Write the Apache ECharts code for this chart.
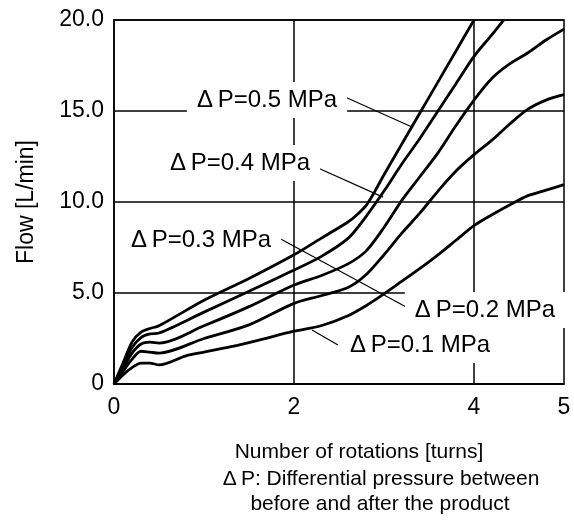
<!DOCTYPE html>
<html><head><meta charset="utf-8">
<script src="https://cdn.jsdelivr.net/npm/echarts@6/dist/echarts.min.js"></script>
<style>html,body{margin:0;padding:0;background:#fff}#c{width:574px;height:527px}</style>
</head><body><div id="c"></div>
<script>
// ---- data ----
const seriesNames = ['ΔP=0.5 MPa','ΔP=0.4 MPa','ΔP=0.3 MPa','ΔP=0.2 MPa','ΔP=0.1 MPa'];
const x05 = [0,0.1,0.2,0.3,0.4,0.5,1,1.5,2,2.3,2.6,2.7,2.8,2.9,3.0,3.2,3.4,3.6,3.8,4.0];
const y05 = [0,1.15,2.3,2.85,3.05,3.2,4.6,5.8,7.1,8.0,8.9,9.3,9.8,10.6,11.5,13.2,14.9,16.6,18.3,20.0];
const x04 = [0,0.1,0.2,0.3,0.4,0.5,1,1.5,2,2.3,2.6,2.8,3.0,3.2,3.4,3.6,3.8,4.0,4.2,4.33];
const y04 = [0,1.0,2.0,2.55,2.75,2.8,3.95,5.1,6.26,7.0,8.0,9.2,10.6,12.1,13.5,15.0,16.5,18.0,19.2,20.0];
const x03 = [0,0.1,0.2,0.3,0.4,0.5,1,1.5,2,2.3,2.6,2.8,3.0,3.2,3.4,3.6,3.8,4.0,4.2,4.4,4.6,4.8,5.0];
const y03 = [0,0.85,1.7,2.2,2.3,2.25,3.2,4.25,5.44,5.95,6.6,7.3,8.6,10.1,11.4,12.7,14.2,15.6,16.8,17.6,18.2,18.9,19.5];
const x02 = [0,0.1,0.2,0.3,0.4,0.5,1,1.5,2,2.3,2.6,2.8,3.0,3.2,3.4,3.6,3.8,4.0,4.2,4.4,4.6,4.8,5.0];
const y02 = [0,0.7,1.35,1.8,1.75,1.7,2.5,3.25,4.43,4.85,5.3,6.0,7.1,8.3,9.4,10.6,11.7,12.6,13.4,14.3,15.1,15.6,15.9];
const x01 = [0,0.1,0.2,0.3,0.4,0.5,0.8,1.0,1.3,1.6,2,2.3,2.6,2.8,3.0,3.2,3.4,3.6,3.8,4.0,4.2,4.4,4.6,4.8,5.0];
const y01 = [0,0.5,0.9,1.15,1.15,1.05,1.55,1.75,2.05,2.4,2.9,3.2,3.75,4.3,4.95,5.65,6.35,7.1,7.9,8.7,9.3,9.85,10.35,10.65,10.95];
const yTickValues = [0,5,10,15,20];
const xTickValues = [0,2,4,5];
const vGridValues = [2,4];
// annotations (data coordinates)
const labelTexts = ['Δ\u2009P=0.5 MPa','Δ\u2009P=0.4 MPa','Δ\u2009P=0.3 MPa','Δ\u2009P=0.2 MPa','Δ\u2009P=0.1 MPa'];
const labelPos = [[1.70,15.6],[1.40,12.14],[0.967,7.91],[4.122,4.07],[3.40,2.14]];
const leaderFrom = [[2.567,15.77],[2.267,11.87],[1.811,8.08],[2.2,2.97]];
const leaderTo = [[3.311,14.12],[2.989,10.27],[3.267,4.18],[2.489,2.14]];
const bottomLines = ['Number of rotations [turns]','Δ\u2009P: Differential pressure between','before and after the product'];

const FONT = "'Liberation Sans', Arial, Helvetica, sans-serif";
const zip = (xs, ys) => xs.map((x,i)=>[x, ys[i]]);
const allX = [x05,x04,x03,x02,x01], allY = [y05,y04,y03,y02,y01];

const series = seriesNames.map((n,i)=>({
  type:'line', name:n, data: zip(allX[i], allY[i]), symbol:'none', smooth:0.3,
  lineStyle:{color:'#000', width:2.8}, clip:true, z:2, silent:true
}));
series[4].markLine = {
  silent:true, symbol:'none', z:1, animation:false, label:{show:false},
  lineStyle:{color:'#000', width:1.5, type:'solid'},
  data: vGridValues.map(v=>({xAxis:v}))
};
series[3].markLine = {
  silent:true, symbol:'none', z:3, animation:false, label:{show:false},
  lineStyle:{color:'#000', width:1.2, type:'solid'},
  data: leaderFrom.map((f,i)=>[{coord:f},{coord:leaderTo[i]}])
};
series[2].markPoint = {
  silent:true, z:4, animation:false, symbol:'rect', symbolSize:1,
  itemStyle:{color:'rgba(0,0,0,0)'},
  label:{show:true, position:'inside', formatter:p=>p.name, color:'#000', fontSize:24,
    fontFamily:FONT, backgroundColor:'#fff', padding:[6,10]},
  data: labelTexts.map((t,i)=>({name:t, coord:labelPos[i]}))
};

const chart = echarts.init(document.getElementById('c'), null, {renderer:'canvas'});
chart.setOption({
  animation:false,
  backgroundColor:'#fff',
  grid:{left:114, top:20, right:10, bottom:143, show:true, borderColor:'#000', borderWidth:1.5, backgroundColor:'#fff', outerBoundsMode:'none'},
  xAxis:{type:'value', min:0, max:5, interval:1,
    axisLine:{show:true, lineStyle:{color:'#000', width:1.5}},
    axisTick:{show:false}, splitLine:{show:false},
    axisLabel:{customValues:xTickValues, color:'#000', fontSize:23, fontFamily:FONT, margin:12}},
  yAxis:{type:'value', min:0, max:20, interval:5,
    name:'Flow [L/min]', nameLocation:'middle', nameGap:76,
    nameTextStyle:{color:'#000', fontSize:23, fontFamily:FONT},
    axisLine:{show:true, lineStyle:{color:'#000', width:1.5}},
    axisTick:{show:false},
    splitLine:{show:true, lineStyle:{color:'#000', width:1.5}},
    axisLabel:{customValues:yTickValues, formatter:v=>v===0?'0':v.toFixed(1), color:'#000', fontSize:23, fontFamily:FONT, margin:10}},
  graphic: bottomLines.map((t,i)=>({
    type:'text', x:[359,381,380][i], y:[452,479,504][i], silent:true,
    style:{text:t, fill:'#000', font:'21px '+FONT, align:'center', verticalAlign:'middle'}
  })),
  series
});
</script></body></html>
